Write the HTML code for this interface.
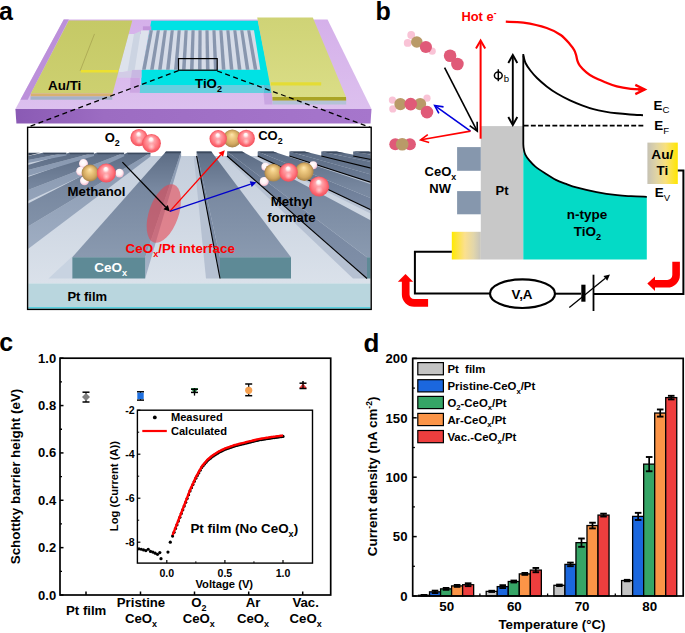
<!DOCTYPE html>
<html><head><meta charset="utf-8"><style>
html,body{margin:0;padding:0;background:#fff;width:685px;height:633px;overflow:hidden}
svg{display:block}
text{font-family:"Liberation Sans",sans-serif}
</style></head><body>
<svg width="685" height="633" viewBox="0 0 685 633">
<defs>
<linearGradient id="subFront" gradientUnits="userSpaceOnUse" x1="15" y1="0" x2="371" y2="0"><stop offset="0" stop-color="#8a5ab4"/><stop offset="0.25" stop-color="#9c6cc2"/><stop offset="1" stop-color="#a676cc"/></linearGradient>
<linearGradient id="subTop" x1="0" y1="0" x2="0" y2="1"><stop offset="0" stop-color="#d5b0ea"/><stop offset="1" stop-color="#dcc0ee"/></linearGradient>
<linearGradient id="padL" x1="0" y1="0" x2="0" y2="1"><stop offset="0" stop-color="#c5c966"/><stop offset="1" stop-color="#cdd070"/></linearGradient>
<linearGradient id="padR" x1="0" y1="0" x2="0" y2="1"><stop offset="0" stop-color="#cfd376"/><stop offset="1" stop-color="#dadd86"/></linearGradient>
<linearGradient id="goldL" x1="0" y1="0" x2="1" y2="0"><stop offset="0" stop-color="#ffea00"/><stop offset="0.2" stop-color="#fde444"/><stop offset="0.45" stop-color="#fbe08e"/><stop offset="0.75" stop-color="#e2d6aa"/><stop offset="1" stop-color="#c6c4bc"/></linearGradient>
<linearGradient id="goldR" x1="0" y1="0" x2="1" y2="0"><stop offset="0" stop-color="#c6c2b4"/><stop offset="0.3" stop-color="#e0d4a4"/><stop offset="0.6" stop-color="#f8e07c"/><stop offset="1" stop-color="#ffe600"/></linearGradient>
<radialGradient id="sphO" cx="0.5" cy="0.5" r="0.5" fx="0.47" fy="0.24"><stop offset="0" stop-color="#ffffff"/><stop offset="0.16" stop-color="#fff2f2"/><stop offset="0.34" stop-color="#ffa4aa"/><stop offset="0.75" stop-color="#ff747c"/><stop offset="1" stop-color="#f2505c"/></radialGradient>
<radialGradient id="hl2" cx="0.5" cy="0.5" r="0.5"><stop offset="0" stop-color="#ffffff" stop-opacity="0.55"/><stop offset="1" stop-color="#ffffff" stop-opacity="0"/></radialGradient>
<radialGradient id="sphC" cx="0.5" cy="0.5" r="0.5" fx="0.47" fy="0.28"><stop offset="0" stop-color="#fde6b0"/><stop offset="0.3" stop-color="#f0cc84"/><stop offset="0.75" stop-color="#d2a860"/><stop offset="1" stop-color="#a8844a"/></radialGradient>
<radialGradient id="sphH" cx="0.45" cy="0.4" r="0.6"><stop offset="0" stop-color="#ffffff"/><stop offset="0.6" stop-color="#fff0f4"/><stop offset="1" stop-color="#f4b8cc"/></radialGradient>
<clipPath id="insetClip"><rect x="28.3" y="128" width="342.2" height="180.7"/></clipPath>
</defs>
<rect x="0" y="0" width="685" height="633" fill="#fff"/>
<polygon points="63.77,19.50 327.56,19.50 371.50,108.90 15.40,108.90" fill="url(#subTop)" />
<polygon points="63.77,19.50 68.80,19.50 27.67,99.70 20.38,99.70" fill="#bc90da" />
<polygon points="15.40,108.90 371.50,108.90 370.50,123.60 16.40,123.60" fill="url(#subFront)" />
<polygon points="151.30,20.70 257.80,20.70 270.80,85.10 141.30,85.10 141.30,70.00 142.30,69.70" fill="#00e2e4" />
<polygon points="139.50,85.10 263.50,85.10 263.50,93.00 139.50,93.00" fill="#66cfdf" />
<polygon points="263.50,85.10 270.80,85.10 271.70,93.00 263.50,93.00" fill="#52c2d6" />
<polygon points="263.50,93.00 271.70,93.00 272.60,104.60 264.50,104.60" fill="#c9a6e2" />
<polygon points="142.90,26.30 151.30,26.30 151.30,30.20 142.90,30.20" fill="#c294da" />
<polygon points="128.50,34.00 141.00,34.00 141.00,30.40 149.00,30.40 142.30,69.70 141.30,70.00 118.20,72.50" fill="#dde2ec" />
<polygon points="134.00,34.00 140.80,31.00 134.50,70.80 127.50,71.50" fill="#ccd4e2" />
<polygon points="118.20,72.50 141.30,70.00 141.30,77.80 117.60,77.80" fill="#d2cce6" />
<polygon points="132.00,70.00 141.30,69.80 141.30,77.80 131.00,77.80" fill="#c8b8e2" />
<polygon points="130.50,77.80 139.80,77.80 139.80,92.80 129.90,92.80" fill="#cca6e2" />
<polygon points="149.67,30.20 254.00,30.20 260.30,69.70 141.90,69.70" fill="#d6dce8" />
<polygon points="149.84,30.20 152.97,30.20 145.70,69.70 142.10,69.70" fill="#8896ae" />
<polygon points="156.79,30.20 159.92,30.20 153.68,69.70 150.08,69.70" fill="#8896ae" />
<polygon points="163.74,30.20 166.87,30.20 161.66,69.70 158.06,69.70" fill="#8896ae" />
<polygon points="170.69,30.20 173.82,30.20 169.64,69.70 166.04,69.70" fill="#8896ae" />
<polygon points="177.64,30.20 180.77,30.20 177.62,69.70 174.02,69.70" fill="#8896ae" />
<polygon points="184.58,30.20 187.72,30.20 185.60,69.70 182.00,69.70" fill="#8896ae" />
<polygon points="191.53,30.20 194.67,30.20 193.58,69.70 189.98,69.70" fill="#8896ae" />
<polygon points="198.48,30.20 201.62,30.20 201.56,69.70 197.96,69.70" fill="#8896ae" />
<polygon points="205.43,30.20 208.57,30.20 209.54,69.70 205.94,69.70" fill="#8896ae" />
<polygon points="212.38,30.20 215.51,30.20 217.52,69.70 213.92,69.70" fill="#8896ae" />
<polygon points="219.33,30.20 222.46,30.20 225.50,69.70 221.90,69.70" fill="#8896ae" />
<polygon points="226.28,30.20 229.41,30.20 233.48,69.70 229.88,69.70" fill="#8896ae" />
<polygon points="233.23,30.20 236.36,30.20 241.46,69.70 237.86,69.70" fill="#8896ae" />
<polygon points="240.18,30.20 243.31,30.20 249.44,69.70 245.84,69.70" fill="#8896ae" />
<polygon points="247.12,30.20 250.26,30.20 257.42,69.70 253.82,69.70" fill="#8896ae" />
<polygon points="68.80,20.50 132.30,20.50 112.60,93.50 30.80,93.50" fill="url(#padL)" />
<polygon points="30.80,93.50 112.60,93.50 112.40,96.60 30.60,96.60" fill="#d8b070" />
<polygon points="30.60,96.60 112.40,96.60 112.20,99.80 30.40,99.80" fill="#a4b2c8" />
<line x1="94.50" y1="33.90" x2="80.10" y2="70.90" stroke="#a8a450" stroke-width="0.8" />
<line x1="80.80" y1="71.30" x2="118.00" y2="71.30" stroke="#ece030" stroke-width="2.4" />
<polygon points="257.20,17.50 312.80,17.50 346.00,96.90 272.40,96.90" fill="url(#padR)" />
<polygon points="272.40,96.90 346.00,96.90 346.20,100.80 272.50,100.80" fill="#aaa424" />
<polygon points="272.50,100.80 346.20,100.80 346.20,104.60 272.60,104.60" fill="#b4c2d6" />
<line x1="270.90" y1="83.80" x2="321.20" y2="83.80" stroke="#e4dc34" stroke-width="3.3" />
<rect x="178.5" y="58.6" width="38.7" height="11.6" fill="none" stroke="#000" stroke-width="1.2"/>
<line x1="178.50" y1="70.60" x2="27.60" y2="127.20" stroke="#000" stroke-width="1.3" stroke-dasharray="5,3.5"/>
<line x1="217.20" y1="71.00" x2="370.80" y2="127.60" stroke="#000" stroke-width="1.3" stroke-dasharray="5,3.5"/>
<text x="48.10" y="89.60" font-size="13.4" font-weight="bold" fill="#000" text-anchor="start" >Au/Ti</text>
<text x="195.00" y="87.90" font-size="13.3" font-weight="bold" fill="#000" text-anchor="start" ><tspan font-size="13.30" dy="0.00">TiO</tspan><tspan font-size="9.04" dy="3.99">2</tspan></text>
<g clip-path="url(#insetClip)">
<rect x="27" y="127" width="345" height="185" fill="#fff"/>
<linearGradient id="topG" gradientUnits="userSpaceOnUse" x1="0" y1="152" x2="0" y2="258"><stop offset="0" stop-color="#5c6c84"/><stop offset="0.35" stop-color="#7888a0"/><stop offset="1" stop-color="#8a9ab0"/></linearGradient>
<linearGradient id="sideL" gradientUnits="userSpaceOnUse" x1="0" y1="152" x2="0" y2="279"><stop offset="0" stop-color="#8898b0"/><stop offset="1" stop-color="#a6b4c8"/></linearGradient>
<linearGradient id="sideR" gradientUnits="userSpaceOnUse" x1="0" y1="152" x2="0" y2="279"><stop offset="0" stop-color="#5c6c84"/><stop offset="0.4" stop-color="#7686a0"/><stop offset="1" stop-color="#8090a8"/></linearGradient>
<linearGradient id="gndG" gradientUnits="userSpaceOnUse" x1="0" y1="156" x2="0" y2="283"><stop offset="0" stop-color="#c4cedc"/><stop offset="1" stop-color="#dae1ea"/></linearGradient>
<polygon points="20.00,156.00 380.00,156.00 380.00,283.40 20.00,283.40" fill="url(#gndG)" />
<polygon points="18.00,232.52 150.50,152.70 150.50,156.50 18.00,256.55" fill="url(#sideL)" />
<polygon points="18.00,208.75 126.90,152.70 150.50,152.70 18.00,232.52" fill="url(#topG)" />
<polygon points="126.90,152.70 150.50,152.70 150.10,154.30 128.10,154.30" fill="#3c4a5e" />
<polygon points="18.00,193.88 124.20,152.70 124.20,156.30 18.00,205.65" fill="url(#sideL)" />
<polygon points="18.00,180.54 96.60,152.70 124.20,152.70 18.00,193.88" fill="url(#topG)" />
<polygon points="96.60,152.70 124.20,152.70 123.80,154.30 97.80,154.30" fill="#3c4a5e" />
<polygon points="18.00,172.62 94.00,152.70 94.00,156.00 18.00,179.03" fill="url(#sideL)" />
<polygon points="18.00,168.00 69.00,152.70 94.00,152.70 18.00,172.62" fill="url(#topG)" />
<polygon points="69.00,152.70 94.00,152.70 93.60,154.30 70.20,154.30" fill="#3c4a5e" />
<polygon points="18.00,161.90 66.40,152.70 66.40,155.50 18.00,164.95" fill="url(#sideL)" />
<polygon points="18.00,158.23 42.80,152.70 66.40,152.70 18.00,161.90" fill="url(#topG)" />
<polygon points="42.80,152.70 66.40,152.70 66.00,154.30 44.00,154.30" fill="#3c4a5e" />
<polygon points="27.00,152.70 40.00,152.70 27.00,156.00" fill="#3c4a5e" />
<polygon points="220.00,278.50 206.00,278.50 193.71,156.00 196.61,156.00" fill="#b6c1d2" />
<polygon points="367.00,278.50 353.00,278.50 224.16,156.00 227.06,156.00" fill="#b6c1d2" />
<polygon points="515.00,278.50 501.00,278.50 254.81,156.00 257.71,156.00" fill="#b6c1d2" />
<polygon points="668.00,278.50 654.00,278.50 286.50,156.00 289.40,156.00" fill="#b6c1d2" />
<polygon points="822.00,278.50 808.00,278.50 318.40,156.00 321.30,156.00" fill="#b6c1d2" />
<polygon points="976.00,278.50 962.00,278.50 350.29,156.00 353.19,156.00" fill="#b6c1d2" />
<polygon points="145.20,257.30 145.20,278.50 181.12,156.00 181.12,151.60" fill="url(#sideL)" />
<polygon points="72.20,257.30 145.20,257.30 181.12,151.60 166.01,151.60" fill="url(#topG)" />
<polygon points="72.20,257.30 145.20,257.30 145.20,278.50 72.20,278.50" fill="#5e8a96" />
<polygon points="166.01,151.60 181.12,151.60 180.58,153.20 164.59,153.20" fill="#3c4a5e" />
<polygon points="220.00,257.30 220.00,278.50 196.61,156.00 196.61,151.60" fill="url(#sideR)" />
<polygon points="220.00,257.30 291.00,257.30 211.31,151.60 196.61,151.60" fill="url(#topG)" />
<polygon points="220.00,257.30 291.00,257.30 291.00,278.50 220.00,278.50" fill="#5e8a96" />
<polygon points="196.61,151.60 211.31,151.60 212.52,153.20 196.96,153.20" fill="#3c4a5e" />
<line x1="220.00" y1="278.50" x2="196.61" y2="156.00" stroke="#000" stroke-width="1.1" />
<polygon points="367.00,257.30 367.00,278.50 227.06,156.00 227.04,151.60" fill="url(#sideR)" />
<polygon points="367.00,257.30 440.00,257.30 242.16,151.60 227.04,151.60" fill="url(#topG)" />
<polygon points="367.00,257.30 440.00,257.30 440.00,278.50 367.00,278.50" fill="#5e8a96" />
<polygon points="227.04,151.60 242.16,151.60 245.15,153.20 229.16,153.20" fill="#3c4a5e" />
<line x1="367.00" y1="278.50" x2="227.06" y2="156.00" stroke="#000" stroke-width="1.1" />
<polygon points="515.00,257.30 515.00,278.50 257.71,156.00 257.69,151.60" fill="url(#sideR)" />
<polygon points="515.00,257.30 590.00,257.30 273.22,151.60 257.69,151.60" fill="url(#topG)" />
<polygon points="515.00,257.30 590.00,257.30 590.00,278.50 515.00,278.50" fill="#5e8a96" />
<polygon points="257.69,151.60 273.22,151.60 278.01,153.20 261.58,153.20" fill="#3c4a5e" />
<line x1="515.00" y1="278.50" x2="257.71" y2="156.00" stroke="#000" stroke-width="1.1" />
<polygon points="668.00,257.30 668.00,278.50 289.40,156.00 289.37,151.60" fill="url(#sideR)" />
<polygon points="668.00,257.30 742.00,257.30 304.69,151.60 289.37,151.60" fill="url(#topG)" />
<polygon points="668.00,257.30 742.00,257.30 742.00,278.50 668.00,278.50" fill="#5e8a96" />
<polygon points="289.37,151.60 304.69,151.60 311.31,153.20 295.10,153.20" fill="#3c4a5e" />
<line x1="668.00" y1="278.50" x2="289.40" y2="156.00" stroke="#000" stroke-width="1.1" />
<polygon points="822.00,257.30 822.00,278.50 321.30,156.00 321.25,151.60" fill="url(#sideR)" />
<polygon points="822.00,257.30 896.00,257.30 336.58,151.60 321.25,151.60" fill="url(#topG)" />
<polygon points="822.00,257.30 896.00,257.30 896.00,278.50 822.00,278.50" fill="#5e8a96" />
<polygon points="321.25,151.60 336.58,151.60 345.04,153.20 328.83,153.20" fill="#3c4a5e" />
<line x1="822.00" y1="278.50" x2="321.30" y2="156.00" stroke="#000" stroke-width="1.1" />
<polygon points="976.00,257.30 976.00,278.50 353.19,156.00 353.14,151.60" fill="url(#sideR)" />
<polygon points="976.00,257.30 1050.00,257.30 368.46,151.60 353.14,151.60" fill="url(#topG)" />
<polygon points="976.00,257.30 1050.00,257.30 1050.00,278.50 976.00,278.50" fill="#5e8a96" />
<polygon points="353.14,151.60 368.46,151.60 378.78,153.20 362.57,153.20" fill="#3c4a5e" />
<line x1="976.00" y1="278.50" x2="353.19" y2="156.00" stroke="#000" stroke-width="1.1" />
<polygon points="48.50,278.50 72.20,256.50 72.20,278.50" fill="#c8d3e1" />
<rect x="20" y="283.4" width="360" height="25.2" fill="#b9d6de"/>
<rect x="20" y="307.2" width="360" height="1.5" fill="#40d0e0"/>
</g>
<rect x="27.6" y="127.3" width="343.6" height="182.1" fill="none" stroke="#000" stroke-width="1.4"/>
<text x="67.40" y="300.50" font-size="13" font-weight="bold" fill="#000" text-anchor="start" >Pt film</text>
<text x="94.30" y="271.50" font-size="13.5" font-weight="bold" fill="#fff" text-anchor="start" ><tspan font-size="13.50" dy="0.00">CeO</tspan><tspan font-size="9.18" dy="4.05">x</tspan></text>
<ellipse cx="163.8" cy="213.5" rx="14.8" ry="30.6" transform="rotate(19 163.8 213.5)" fill="#e8444f" fill-opacity="0.58"/>
<text x="125.60" y="253.00" font-size="13.4" font-weight="bold" fill="#ff0000" text-anchor="start" ><tspan font-size="13.40" dy="0.00">CeO</tspan><tspan font-size="9.11" dy="4.02">x</tspan><tspan font-size="13.40" dy="-4.02">/Pt interface</tspan></text>
<circle cx="83.5" cy="163.6" r="4.5" fill="url(#sphH)"/>
<circle cx="84.5" cy="180.7" r="4.5" fill="url(#sphH)"/>
<circle cx="80.7" cy="171.2" r="4.5" fill="url(#sphH)"/>
<circle cx="90.1" cy="173.1" r="8.5" fill="url(#sphC)"/>
<circle cx="119.5" cy="173.1" r="4.3" fill="url(#sphH)"/>
<circle cx="106.3" cy="173.1" r="9.5" fill="url(#sphO)"/>
<circle cx="106.3" cy="176.71" r="3.80" fill="url(#hl2)"/>
<circle cx="139" cy="137.7" r="8.6" fill="url(#sphO)"/>
<circle cx="139" cy="140.97" r="3.44" fill="url(#hl2)"/>
<circle cx="151.5" cy="143.3" r="9.4" fill="url(#sphO)"/>
<circle cx="151.5" cy="146.87" r="3.76" fill="url(#hl2)"/>
<circle cx="232.3" cy="138.4" r="9" fill="url(#sphC)"/>
<circle cx="218.2" cy="138.8" r="8.7" fill="url(#sphO)"/>
<circle cx="218.2" cy="142.11" r="3.48" fill="url(#hl2)"/>
<circle cx="246.2" cy="138.4" r="8.7" fill="url(#sphO)"/>
<circle cx="246.2" cy="141.71" r="3.48" fill="url(#hl2)"/>
<circle cx="265.4" cy="166.7" r="4" fill="url(#sphH)"/>
<circle cx="264.2" cy="181.5" r="4.5" fill="url(#sphH)"/>
<circle cx="313.2" cy="165.3" r="4" fill="url(#sphH)"/>
<circle cx="273.3" cy="172.6" r="8.9" fill="url(#sphC)"/>
<circle cx="304.3" cy="171.6" r="9.3" fill="url(#sphC)"/>
<circle cx="288.5" cy="172.4" r="9.3" fill="url(#sphO)"/>
<circle cx="288.5" cy="175.93" r="3.72" fill="url(#hl2)"/>
<circle cx="319.1" cy="186.4" r="10" fill="url(#sphO)"/>
<circle cx="319.1" cy="190.20" r="4.00" fill="url(#hl2)"/>
<text x="104.70" y="142.20" font-size="13" font-weight="bold" fill="#000" text-anchor="start" ><tspan font-size="13.00" dy="0.00">O</tspan><tspan font-size="8.84" dy="3.90">2</tspan></text>
<text x="258.20" y="139.60" font-size="13" font-weight="bold" fill="#000" text-anchor="start" ><tspan font-size="13.00" dy="0.00">CO</tspan><tspan font-size="8.84" dy="3.90">2</tspan></text>
<text x="67.60" y="196.20" font-size="13.2" font-weight="bold" fill="#000" text-anchor="start" >Methanol</text>
<text x="270.70" y="206.00" font-size="13.2" font-weight="bold" fill="#000" text-anchor="start" >Methyl</text>
<text x="267.20" y="221.50" font-size="13.2" font-weight="bold" fill="#000" text-anchor="start" >formate</text>
<line x1="122.40" y1="162.10" x2="165.64" y2="207.07" stroke="#000" stroke-width="1.3"/>
<polygon points="163.48,209.15 169.80,211.40 167.80,205.00" fill="#000"/>
<line x1="169.80" y1="211.40" x2="220.79" y2="154.76" stroke="#ff0000" stroke-width="1.3"/>
<polygon points="223.02,156.77 224.80,150.30 218.56,152.75" fill="#ff0000"/>
<line x1="169.80" y1="211.40" x2="250.71" y2="184.21" stroke="#0000cc" stroke-width="1.3"/>
<polygon points="251.67,187.05 256.40,182.30 249.76,181.37" fill="#0000cc"/>
<text x="-1.00" y="19.50" font-size="25" font-weight="bold" fill="#000" text-anchor="start" >a</text>
<text x="375.50" y="20.00" font-size="25" font-weight="bold" fill="#000" text-anchor="start" >b</text>
<rect x="480.8" y="126.1" width="42.5" height="133.4" fill="#c8c8c8"/>
<path d="M523.30,144.00 C523.37,144.75 523.38,146.78 523.70,148.50 C524.02,150.22 524.27,152.32 525.20,154.30 C526.13,156.28 527.60,158.35 529.30,160.40 C531.00,162.45 532.67,164.38 535.40,166.60 C538.13,168.82 542.28,171.48 545.70,173.70 C549.12,175.92 552.50,178.20 555.90,179.90 C559.30,181.60 562.70,182.65 566.10,183.90 C569.50,185.15 571.20,186.03 576.30,187.40 C581.40,188.77 589.88,190.80 596.70,192.10 C603.52,193.40 611.48,194.52 617.20,195.20 C622.92,195.88 626.07,195.93 631.00,196.20 C635.93,196.47 644.17,196.70 646.80,196.80 L646.8,259.5 L523.3,259.5 Z" fill="#04dac6"/>
<path d="M523.3,54 L523.30,144.00 C523.37,144.75 523.38,146.78 523.70,148.50 C524.02,150.22 524.27,152.32 525.20,154.30 C526.13,156.28 527.60,158.35 529.30,160.40 C531.00,162.45 532.67,164.38 535.40,166.60 C538.13,168.82 542.28,171.48 545.70,173.70 C549.12,175.92 552.50,178.20 555.90,179.90 C559.30,181.60 562.70,182.65 566.10,183.90 C569.50,185.15 571.20,186.03 576.30,187.40 C581.40,188.77 589.88,190.80 596.70,192.10 C603.52,193.40 611.48,194.52 617.20,195.20 C622.92,195.88 626.07,195.93 631.00,196.20 C635.93,196.47 644.17,196.70 646.80,196.80" fill="none" stroke="#000" stroke-width="1.8"/>
<path d="M523.40,55.50 C523.75,56.75 524.33,60.50 525.50,63.00 C526.67,65.50 528.48,68.00 530.40,70.50 C532.32,73.00 534.28,75.35 537.00,78.00 C539.72,80.65 543.37,83.82 546.70,86.40 C550.03,88.98 553.12,91.17 557.00,93.50 C560.88,95.83 565.83,98.43 570.00,100.40 C574.17,102.37 578.10,103.85 582.00,105.30 C585.90,106.75 589.57,108.05 593.40,109.10 C597.23,110.15 601.10,110.90 605.00,111.60 C608.90,112.30 612.63,112.82 616.80,113.30 C620.97,113.78 625.63,114.18 630.00,114.50 C634.37,114.82 640.83,115.08 643.00,115.20" fill="none" stroke="#000" stroke-width="1.9"/>
<line x1="523.70" y1="125.70" x2="643.30" y2="125.70" stroke="#000" stroke-width="1.7" stroke-dasharray="4.9,2.27"/>
<rect x="457.1" y="147.1" width="23.7" height="23.7" fill="#8697ad"/>
<rect x="457.1" y="191.1" width="23.7" height="23.2" fill="#8697ad"/>
<rect x="451.8" y="231.8" width="29" height="27.7" fill="url(#goldL)"/>
<rect x="647.4" y="142.6" width="30.4" height="41.4" fill="url(#goldR)"/>
<polyline points="451.8,251.7 414.9,251.7 414.9,293.4 490.2,293.4" fill="none" stroke="#000" stroke-width="2"/>
<polyline points="677.8,170.5 683.4,170.5 683.4,293.9 593.5,293.9" fill="none" stroke="#000" stroke-width="2"/>
<line x1="555.00" y1="293.70" x2="581.00" y2="293.70" stroke="#000" stroke-width="2" />
<ellipse cx="522.5" cy="293.7" rx="32.5" ry="14.3" fill="#fff" stroke="#000" stroke-width="2.2"/>
<rect x="581.3" y="284.7" width="4.2" height="17" fill="#000"/>
<line x1="593.50" y1="274.70" x2="593.50" y2="311.00" stroke="#000" stroke-width="1.8" />
<line x1="569.30" y1="307.40" x2="605.33" y2="278.36" stroke="#000" stroke-width="1.3"/>
<polygon points="607.21,280.70 610.00,274.60 603.45,276.03" fill="#000"/>
<text x="522.00" y="298.70" font-size="13.4" font-weight="bold" fill="#000" text-anchor="middle" >V,A</text>
<path d="M405.7,281 L405.7,294.5 A8.4,8.4 0 0 0 414.1,302.9 L428.1,302.9" fill="none" stroke="#ff0000" stroke-width="7.7"/>
<polygon points="397.8,281.8 405.5,273.9 413.2,281.8" fill="#ff0000"/>
<path d="M676.1,261.8 L676.1,275 A8.8,8.8 0 0 1 667.3,283.8 L655,283.8" fill="none" stroke="#ff0000" stroke-width="7.6"/>
<polygon points="655,276.6 647.3,283.5 655,291" fill="#ff0000"/>
<polyline points="485.20,48.50 480.60,40.50 476.00,48.50" fill="none" stroke="#ff0000" stroke-width="2"/>
<line x1="480.60" y1="138.70" x2="480.60" y2="41.00" stroke="#ff0000" stroke-width="2"/>
<path d="M505.80,21.70 C508.73,21.87 516.58,21.65 523.40,22.70 C530.22,23.75 540.48,25.95 546.70,28.00 C552.92,30.05 556.80,32.27 560.70,35.00 C564.60,37.73 567.83,41.87 570.10,44.40 C572.37,46.93 573.28,48.35 574.30,50.20 C575.32,52.05 575.68,53.75 576.20,55.50 C576.72,57.25 576.80,59.02 577.40,60.70 C578.00,62.38 578.30,63.65 579.80,65.60 C581.30,67.55 584.13,70.48 586.40,72.40 C588.67,74.32 590.28,75.47 593.40,77.10 C596.52,78.73 601.20,80.65 605.10,82.20 C609.00,83.75 612.52,85.30 616.80,86.40 C621.08,87.50 626.43,88.28 630.80,88.80 C635.17,89.32 640.97,89.38 643.00,89.50" fill="none" stroke="#ff0000" stroke-width="2.3"/>
<polyline points="635.30,94.10 644.80,89.50 635.30,84.90" fill="none" stroke="#ff0000" stroke-width="2.3"/>
<line x1="638.00" y1="89.50" x2="644.30" y2="89.50" stroke="#ff0000" stroke-width="2.3"/>
<line x1="512.8" y1="56" x2="512.8" y2="123" stroke="#000" stroke-width="1.9"/>
<polyline points="508.3,63 512.8,55 517.3,63" fill="none" stroke="#000" stroke-width="1.9"/>
<polyline points="508.3,117 512.8,125 517.3,117" fill="none" stroke="#000" stroke-width="1.9"/>
<ellipse cx="498.3" cy="75.5" rx="3.9" ry="3.5" fill="none" stroke="#000" stroke-width="1.5"/>
<line x1="498.30" y1="69.30" x2="498.30" y2="81.20" stroke="#000" stroke-width="1.5" />
<text x="503.80" y="82.00" font-size="9.6" font-weight="normal" fill="#000" text-anchor="start" >b</text>
<polyline points="469.67,125.57 477.30,131.20 477.14,121.72" fill="none" stroke="#000" stroke-width="1.6"/>
<line x1="444.60" y1="67.70" x2="477.07" y2="130.76" stroke="#000" stroke-width="1.6"/>
<polyline points="443.53,106.90 434.70,105.50 438.88,113.41" fill="none" stroke="#0000dd" stroke-width="1.6"/>
<line x1="470.50" y1="131.10" x2="435.11" y2="105.79" stroke="#0000dd" stroke-width="1.6"/>
<polyline points="427.78,134.57 420.60,139.90 429.17,142.45" fill="none" stroke="#ff0000" stroke-width="1.6"/>
<line x1="470.50" y1="131.10" x2="421.09" y2="139.81" stroke="#ff0000" stroke-width="1.6"/>
<circle cx="411.2" cy="35" r="3.9" fill="#f9c3d6"/>
<circle cx="407.7" cy="42.9" r="3.9" fill="#f9c3d6"/>
<circle cx="432.2" cy="51.2" r="3.6" fill="#f9c3d6"/>
<circle cx="416.8" cy="42" r="5.8" fill="#b99a68"/>
<circle cx="425.9" cy="47" r="6.1" fill="#e05a78"/>
<circle cx="450.1" cy="55.7" r="6.3" fill="#e05a78"/>
<circle cx="457.4" cy="64" r="6.3" fill="#e05a78"/>
<circle cx="392.4" cy="100.1" r="3.6" fill="#f9c3d6"/>
<circle cx="392.8" cy="108.9" r="3.6" fill="#f9c3d6"/>
<circle cx="427" cy="98.2" r="3.6" fill="#f9c3d6"/>
<circle cx="400.4" cy="104.1" r="6.1" fill="#b99a68"/>
<circle cx="420.1" cy="104.1" r="6.1" fill="#b99a68"/>
<circle cx="410.7" cy="104.1" r="6.3" fill="#e05a78"/>
<circle cx="427" cy="112.1" r="6.3" fill="#e05a78"/>
<circle cx="395.3" cy="144.2" r="6" fill="#e05a78"/>
<circle cx="409.9" cy="144.2" r="6" fill="#e05a78"/>
<circle cx="402.2" cy="144.2" r="6.3" fill="#b99a68"/>
<text x="461.40" y="21.00" font-size="12.9" font-weight="bold" fill="#ff0000" text-anchor="start" >Hot e<tspan font-size="8.5" dy="-5.5">-</tspan></text>
<text x="653.60" y="110.20" font-size="13.4" font-weight="bold" fill="#000" text-anchor="start" >E<tspan font-size="9.6" font-weight="normal" dy="2.7">C</tspan></text>
<text x="654.20" y="130.20" font-size="13.4" font-weight="bold" fill="#000" text-anchor="start" >E<tspan font-size="9.6" font-weight="normal" dy="3.4">F</tspan></text>
<text x="654.80" y="197.40" font-size="13.4" font-weight="bold" fill="#000" text-anchor="start" >E<tspan font-size="9.6" font-weight="normal" dy="3.4">V</tspan></text>
<text x="662.30" y="158.60" font-size="13.6" font-weight="bold" fill="#000" text-anchor="middle" >Au/</text>
<text x="662.30" y="174.50" font-size="13.4" font-weight="bold" fill="#000" text-anchor="middle" >Ti</text>
<text x="440.40" y="176.40" font-size="13" font-weight="bold" fill="#000" text-anchor="middle" ><tspan font-size="13.00" dy="0.00">CeO</tspan><tspan font-size="8.84" dy="3.90">x</tspan></text>
<text x="440.20" y="193.20" font-size="13" font-weight="bold" fill="#000" text-anchor="middle" >NW</text>
<text x="502.00" y="195.00" font-size="13" font-weight="bold" fill="#000" text-anchor="middle" >Pt</text>
<text x="587.00" y="219.30" font-size="13.5" font-weight="bold" fill="#000" text-anchor="middle" >n-type</text>
<text x="587.40" y="235.80" font-size="13.5" font-weight="bold" fill="#000" text-anchor="middle" ><tspan font-size="13.50" dy="0.00">TiO</tspan><tspan font-size="9.18" dy="4.05">2</tspan></text>
<text x="-0.80" y="351.00" font-size="25" font-weight="bold" fill="#000" text-anchor="start" >c</text>
<rect x="60.0" y="358.2" width="270.7" height="236.8" fill="none" stroke="#000" stroke-width="1.7"/>
<line x1="60.00" y1="595.00" x2="63.50" y2="595.00" stroke="#000" stroke-width="1.5" />
<text x="56.20" y="599.50" font-size="13" font-weight="bold" fill="#000" text-anchor="end" >0.0</text>
<line x1="60.00" y1="547.64" x2="63.50" y2="547.64" stroke="#000" stroke-width="1.5" />
<text x="56.20" y="552.14" font-size="13" font-weight="bold" fill="#000" text-anchor="end" >0.2</text>
<line x1="60.00" y1="500.28" x2="63.50" y2="500.28" stroke="#000" stroke-width="1.5" />
<text x="56.20" y="504.78" font-size="13" font-weight="bold" fill="#000" text-anchor="end" >0.4</text>
<line x1="60.00" y1="452.92" x2="63.50" y2="452.92" stroke="#000" stroke-width="1.5" />
<text x="56.20" y="457.42" font-size="13" font-weight="bold" fill="#000" text-anchor="end" >0.6</text>
<line x1="60.00" y1="405.56" x2="63.50" y2="405.56" stroke="#000" stroke-width="1.5" />
<text x="56.20" y="410.06" font-size="13" font-weight="bold" fill="#000" text-anchor="end" >0.8</text>
<line x1="60.00" y1="358.20" x2="63.50" y2="358.20" stroke="#000" stroke-width="1.5" />
<text x="56.20" y="362.70" font-size="13" font-weight="bold" fill="#000" text-anchor="end" >1.0</text>
<line x1="60.00" y1="571.32" x2="62.00" y2="571.32" stroke="#000" stroke-width="1.3" />
<line x1="60.00" y1="523.96" x2="62.00" y2="523.96" stroke="#000" stroke-width="1.3" />
<line x1="60.00" y1="476.60" x2="62.00" y2="476.60" stroke="#000" stroke-width="1.3" />
<line x1="60.00" y1="429.24" x2="62.00" y2="429.24" stroke="#000" stroke-width="1.3" />
<line x1="60.00" y1="381.88" x2="62.00" y2="381.88" stroke="#000" stroke-width="1.3" />
<line x1="86.00" y1="595.00" x2="86.00" y2="591.50" stroke="#000" stroke-width="1.5" />
<line x1="140.50" y1="595.00" x2="140.50" y2="591.50" stroke="#000" stroke-width="1.5" />
<line x1="194.50" y1="595.00" x2="194.50" y2="591.50" stroke="#000" stroke-width="1.5" />
<line x1="248.70" y1="595.00" x2="248.70" y2="591.50" stroke="#000" stroke-width="1.5" />
<line x1="302.70" y1="595.00" x2="302.70" y2="591.50" stroke="#000" stroke-width="1.5" />
<text x="86.20" y="615.30" font-size="13.2" font-weight="bold" fill="#000" text-anchor="middle" >Pt film</text>
<text x="141.00" y="607.20" font-size="13.2" font-weight="bold" fill="#000" text-anchor="middle" >Pristine</text>
<text x="141.00" y="622.80" font-size="13.2" font-weight="bold" fill="#000" text-anchor="middle" ><tspan font-size="13.20" dy="0.00">CeO</tspan><tspan font-size="8.98" dy="3.96">x</tspan></text>
<text x="198.80" y="607.20" font-size="13.2" font-weight="bold" fill="#000" text-anchor="middle" ><tspan font-size="13.20" dy="0.00">O</tspan><tspan font-size="8.98" dy="3.96">2</tspan></text>
<text x="198.80" y="622.80" font-size="13.2" font-weight="bold" fill="#000" text-anchor="middle" ><tspan font-size="13.20" dy="0.00">CeO</tspan><tspan font-size="8.98" dy="3.96">x</tspan></text>
<text x="253.00" y="607.20" font-size="13.2" font-weight="bold" fill="#000" text-anchor="middle" >Ar</text>
<text x="253.00" y="622.80" font-size="13.2" font-weight="bold" fill="#000" text-anchor="middle" ><tspan font-size="13.20" dy="0.00">CeO</tspan><tspan font-size="8.98" dy="3.96">x</tspan></text>
<text x="305.60" y="607.20" font-size="13.2" font-weight="bold" fill="#000" text-anchor="middle" >Vac.</text>
<text x="305.60" y="622.80" font-size="13.2" font-weight="bold" fill="#000" text-anchor="middle" ><tspan font-size="13.20" dy="0.00">CeO</tspan><tspan font-size="8.98" dy="3.96">x</tspan></text>
<text transform="translate(20.2,476.5) rotate(-90)" font-size="13.4" font-weight="bold" text-anchor="middle">Schottky barrier height (eV)</text>
<line x1="86.00" y1="392.20" x2="86.00" y2="402.00" stroke="#000" stroke-width="1.2" />
<line x1="82.50" y1="392.20" x2="89.50" y2="392.20" stroke="#000" stroke-width="1.5" />
<line x1="82.50" y1="402.00" x2="89.50" y2="402.00" stroke="#000" stroke-width="1.5" />
<polygon points="86.00,392.90 90.00,396.90 86.00,400.90 82.00,396.90" fill="#808080" />
<line x1="140.50" y1="391.80" x2="140.50" y2="400.10" stroke="#000" stroke-width="1.2" />
<line x1="137.00" y1="391.80" x2="144.00" y2="391.80" stroke="#000" stroke-width="1.5" />
<line x1="137.00" y1="400.10" x2="144.00" y2="400.10" stroke="#000" stroke-width="1.5" />
<rect x="137.3" y="392.7" width="6.4" height="6.4" fill="#1f70e0"/>
<polygon points="190.80,387.90 198.20,387.90 194.50,394.20" fill="#2e9a50" />
<line x1="194.50" y1="389.30" x2="194.50" y2="392.40" stroke="#000" stroke-width="1.2" />
<line x1="191.00" y1="389.30" x2="198.00" y2="389.30" stroke="#000" stroke-width="1.5" />
<line x1="191.00" y1="392.40" x2="198.00" y2="392.40" stroke="#000" stroke-width="1.5" />
<line x1="194.50" y1="388.00" x2="194.50" y2="395.60" stroke="#000" stroke-width="1.3" />
<line x1="248.70" y1="384.00" x2="248.70" y2="395.70" stroke="#000" stroke-width="1.2" />
<line x1="245.20" y1="384.00" x2="252.20" y2="384.00" stroke="#000" stroke-width="1.5" />
<line x1="245.20" y1="395.70" x2="252.20" y2="395.70" stroke="#000" stroke-width="1.5" />
<circle cx="248.7" cy="390.3" r="3.6" fill="#f5a050"/>
<polygon points="303.00,383.20 307.00,388.30 299.00,388.30" fill="#f03c3c" />
<line x1="303.00" y1="383.20" x2="303.00" y2="388.50" stroke="#000" stroke-width="1.2" />
<line x1="299.50" y1="383.20" x2="306.50" y2="383.20" stroke="#000" stroke-width="1.5" />
<line x1="299.50" y1="388.50" x2="306.50" y2="388.50" stroke="#000" stroke-width="1.5" />
<line x1="303.00" y1="381.00" x2="303.00" y2="383.20" stroke="#000" stroke-width="1.5" />
<rect x="137.4" y="410.2" width="175.1" height="152.90000000000003" fill="#fff" stroke="#000" stroke-width="1.4"/>
<line x1="137.40" y1="410.20" x2="140.40" y2="410.20" stroke="#000" stroke-width="1.2" />
<text x="134.60" y="414.00" font-size="10.6" font-weight="bold" fill="#000" text-anchor="end" >-2</text>
<line x1="137.40" y1="454.20" x2="140.40" y2="454.20" stroke="#000" stroke-width="1.2" />
<text x="134.60" y="458.00" font-size="10.6" font-weight="bold" fill="#000" text-anchor="end" >-4</text>
<line x1="137.40" y1="498.20" x2="140.40" y2="498.20" stroke="#000" stroke-width="1.2" />
<text x="134.60" y="502.00" font-size="10.6" font-weight="bold" fill="#000" text-anchor="end" >-6</text>
<line x1="137.40" y1="542.20" x2="140.40" y2="542.20" stroke="#000" stroke-width="1.2" />
<text x="134.60" y="546.00" font-size="10.6" font-weight="bold" fill="#000" text-anchor="end" >-8</text>
<line x1="137.40" y1="432.20" x2="139.20" y2="432.20" stroke="#000" stroke-width="1" />
<line x1="137.40" y1="476.20" x2="139.20" y2="476.20" stroke="#000" stroke-width="1" />
<line x1="137.40" y1="520.20" x2="139.20" y2="520.20" stroke="#000" stroke-width="1" />
<line x1="166.80" y1="563.10" x2="166.80" y2="560.10" stroke="#000" stroke-width="1.2" />
<text x="166.80" y="576.60" font-size="10.6" font-weight="bold" fill="#000" text-anchor="middle" >0.0</text>
<line x1="224.90" y1="563.10" x2="224.90" y2="560.10" stroke="#000" stroke-width="1.2" />
<text x="224.90" y="576.60" font-size="10.6" font-weight="bold" fill="#000" text-anchor="middle" >0.5</text>
<line x1="283.00" y1="563.10" x2="283.00" y2="560.10" stroke="#000" stroke-width="1.2" />
<text x="283.00" y="576.60" font-size="10.6" font-weight="bold" fill="#000" text-anchor="middle" >1.0</text>
<line x1="195.85" y1="563.10" x2="195.85" y2="561.30" stroke="#000" stroke-width="1" />
<line x1="253.95" y1="563.10" x2="253.95" y2="561.30" stroke="#000" stroke-width="1" />
<text x="224.30" y="588.40" font-size="11.2" font-weight="bold" fill="#000" text-anchor="middle" >Voltage (V)</text>
<text transform="translate(118.3,486.1) rotate(-90)" font-size="11.2" font-weight="bold" text-anchor="middle">Log (Current (A))</text>
<circle cx="154.8" cy="417.4" r="1.9" fill="#000"/>
<text x="170.90" y="420.80" font-size="11.1" font-weight="bold" fill="#000" text-anchor="start" >Measured</text>
<line x1="142.30" y1="431.00" x2="166.80" y2="431.00" stroke="#ff0000" stroke-width="2.2" />
<text x="170.90" y="435.10" font-size="11.1" font-weight="bold" fill="#000" text-anchor="start" >Calculated</text>
<text x="190.40" y="533.30" font-size="13.4" font-weight="bold" fill="#000" text-anchor="start" ><tspan font-size="13.40" dy="0.00">Pt film (No CeO</tspan><tspan font-size="9.11" dy="4.02">x</tspan><tspan font-size="13.40" dy="-4.02">)</tspan></text>
<circle cx="138.91" cy="548.80" r="1.6" fill="#000"/>
<circle cx="141.24" cy="549.24" r="1.6" fill="#000"/>
<circle cx="143.56" cy="549.90" r="1.6" fill="#000"/>
<circle cx="145.88" cy="550.56" r="1.6" fill="#000"/>
<circle cx="148.21" cy="549.24" r="1.6" fill="#000"/>
<circle cx="150.53" cy="551.44" r="1.6" fill="#000"/>
<circle cx="152.86" cy="552.10" r="1.6" fill="#000"/>
<circle cx="155.18" cy="553.20" r="1.6" fill="#000"/>
<circle cx="157.50" cy="554.30" r="1.6" fill="#000"/>
<circle cx="159.83" cy="552.54" r="1.6" fill="#000"/>
<circle cx="160.99" cy="558.70" r="1.6" fill="#000"/>
<circle cx="167.96" cy="552.10" r="1.6" fill="#000"/>
<circle cx="170.29" cy="542.20" r="1.6" fill="#000"/>
<circle cx="172.61" cy="536.04" r="1.6" fill="#000"/>
<circle cx="174.06" cy="532.30" r="1.6" fill="#000"/>
<circle cx="175.52" cy="528.56" r="1.6" fill="#000"/>
<circle cx="176.97" cy="524.82" r="1.6" fill="#000"/>
<circle cx="178.42" cy="521.08" r="1.6" fill="#000"/>
<circle cx="179.87" cy="517.34" r="1.6" fill="#000"/>
<circle cx="181.33" cy="513.60" r="1.6" fill="#000"/>
<circle cx="182.78" cy="509.86" r="1.6" fill="#000"/>
<circle cx="184.23" cy="506.12" r="1.6" fill="#000"/>
<circle cx="185.68" cy="502.32" r="1.6" fill="#000"/>
<circle cx="187.14" cy="498.53" r="1.6" fill="#000"/>
<circle cx="188.59" cy="494.74" r="1.6" fill="#000"/>
<circle cx="190.04" cy="490.94" r="1.6" fill="#000"/>
<circle cx="191.49" cy="487.75" r="1.6" fill="#000"/>
<circle cx="192.95" cy="484.56" r="1.6" fill="#000"/>
<circle cx="194.40" cy="481.37" r="1.6" fill="#000"/>
<circle cx="195.85" cy="478.18" r="1.6" fill="#000"/>
<circle cx="197.30" cy="475.53" r="1.6" fill="#000"/>
<circle cx="198.76" cy="472.89" r="1.6" fill="#000"/>
<circle cx="200.21" cy="470.24" r="1.6" fill="#000"/>
<circle cx="201.66" cy="467.60" r="1.6" fill="#000"/>
<circle cx="203.11" cy="465.67" r="1.6" fill="#000"/>
<circle cx="204.56" cy="463.97" r="1.6" fill="#000"/>
<circle cx="206.02" cy="462.28" r="1.6" fill="#000"/>
<circle cx="207.47" cy="460.58" r="1.6" fill="#000"/>
<circle cx="208.92" cy="459.36" r="1.6" fill="#000"/>
<circle cx="210.38" cy="458.15" r="1.6" fill="#000"/>
<circle cx="211.83" cy="456.93" r="1.6" fill="#000"/>
<circle cx="213.28" cy="455.89" r="1.6" fill="#000"/>
<circle cx="214.73" cy="454.97" r="1.6" fill="#000"/>
<circle cx="216.19" cy="454.05" r="1.6" fill="#000"/>
<circle cx="217.64" cy="453.14" r="1.6" fill="#000"/>
<circle cx="219.09" cy="452.22" r="1.6" fill="#000"/>
<circle cx="220.54" cy="451.50" r="1.6" fill="#000"/>
<circle cx="222.00" cy="450.79" r="1.6" fill="#000"/>
<circle cx="223.45" cy="450.07" r="1.6" fill="#000"/>
<circle cx="224.90" cy="449.36" r="1.6" fill="#000"/>
<circle cx="226.35" cy="448.85" r="1.6" fill="#000"/>
<circle cx="227.81" cy="448.35" r="1.6" fill="#000"/>
<circle cx="229.26" cy="447.84" r="1.6" fill="#000"/>
<circle cx="230.71" cy="447.34" r="1.6" fill="#000"/>
<circle cx="232.16" cy="446.83" r="1.6" fill="#000"/>
<circle cx="233.62" cy="446.33" r="1.6" fill="#000"/>
<circle cx="235.07" cy="445.83" r="1.6" fill="#000"/>
<circle cx="236.52" cy="445.46" r="1.6" fill="#000"/>
<circle cx="237.97" cy="445.10" r="1.6" fill="#000"/>
<circle cx="239.43" cy="444.73" r="1.6" fill="#000"/>
<circle cx="240.88" cy="444.37" r="1.6" fill="#000"/>
<circle cx="242.33" cy="444.00" r="1.6" fill="#000"/>
<circle cx="243.78" cy="443.64" r="1.6" fill="#000"/>
<circle cx="245.24" cy="443.27" r="1.6" fill="#000"/>
<circle cx="246.69" cy="442.91" r="1.6" fill="#000"/>
<circle cx="248.14" cy="442.54" r="1.6" fill="#000"/>
<circle cx="249.59" cy="442.19" r="1.6" fill="#000"/>
<circle cx="251.05" cy="441.83" r="1.6" fill="#000"/>
<circle cx="252.50" cy="441.48" r="1.6" fill="#000"/>
<circle cx="253.95" cy="441.12" r="1.6" fill="#000"/>
<circle cx="255.40" cy="440.77" r="1.6" fill="#000"/>
<circle cx="256.86" cy="440.41" r="1.6" fill="#000"/>
<circle cx="258.31" cy="440.06" r="1.6" fill="#000"/>
<circle cx="259.76" cy="439.77" r="1.6" fill="#000"/>
<circle cx="261.21" cy="439.54" r="1.6" fill="#000"/>
<circle cx="262.67" cy="439.31" r="1.6" fill="#000"/>
<circle cx="264.12" cy="439.08" r="1.6" fill="#000"/>
<circle cx="265.57" cy="438.85" r="1.6" fill="#000"/>
<circle cx="267.02" cy="438.61" r="1.6" fill="#000"/>
<circle cx="268.48" cy="438.38" r="1.6" fill="#000"/>
<circle cx="269.93" cy="438.15" r="1.6" fill="#000"/>
<circle cx="271.38" cy="437.92" r="1.6" fill="#000"/>
<circle cx="272.83" cy="437.73" r="1.6" fill="#000"/>
<circle cx="274.29" cy="437.53" r="1.6" fill="#000"/>
<circle cx="275.74" cy="437.34" r="1.6" fill="#000"/>
<circle cx="277.19" cy="437.15" r="1.6" fill="#000"/>
<circle cx="278.64" cy="436.96" r="1.6" fill="#000"/>
<circle cx="280.10" cy="436.76" r="1.6" fill="#000"/>
<circle cx="281.55" cy="436.57" r="1.6" fill="#000"/>
<circle cx="283.00" cy="436.38" r="1.6" fill="#000"/>
<path d="M172.61,535.16 L173.77,532.17 L174.93,529.18 L176.10,526.18 L177.26,523.19 L178.42,520.20 L179.58,517.21 L180.74,514.22 L181.91,511.22 L183.07,508.23 L184.23,505.24 L185.39,502.20 L186.55,499.17 L187.72,496.13 L188.88,493.10 L190.04,490.06 L191.20,487.51 L192.36,484.96 L193.53,482.40 L194.69,479.85 L195.85,477.30 L197.01,475.18 L198.17,473.07 L199.34,470.95 L200.50,468.83 L201.66,466.72 L202.82,465.13 L203.98,463.77 L205.15,462.41 L206.31,461.06 L207.47,459.70 L208.63,458.73 L209.79,457.76 L210.96,456.78 L212.12,455.81 L213.28,455.01 L214.44,454.27 L215.60,453.54 L216.77,452.81 L217.93,452.07 L219.09,451.34 L220.25,450.77 L221.41,450.20 L222.58,449.62 L223.74,449.05 L224.90,448.48 L226.06,448.08 L227.22,447.67 L228.39,447.27 L229.55,446.86 L230.71,446.46 L231.87,446.05 L233.03,445.65 L234.20,445.24 L235.36,444.87 L236.52,444.58 L237.68,444.29 L238.84,444.00 L240.01,443.70 L241.17,443.41 L242.33,443.12 L243.49,442.83 L244.65,442.54 L245.82,442.24 L246.98,441.95 L248.14,441.66 L249.30,441.38 L250.46,441.09 L251.63,440.81 L252.79,440.52 L253.95,440.24 L255.11,439.96 L256.27,439.67 L257.44,439.39 L258.60,439.11 L259.76,438.89 L260.92,438.71 L262.08,438.52 L263.25,438.34 L264.41,438.15 L265.57,437.97 L266.73,437.78 L267.89,437.60 L269.06,437.41 L270.22,437.23 L271.38,437.04 L272.54,436.89 L273.70,436.73 L274.87,436.58 L276.03,436.42 L277.19,436.27 L278.35,436.12 L279.51,435.96 L280.68,435.81 L281.84,435.65 L283.00,435.50" fill="none" stroke="#ff0000" stroke-width="2.4" stroke-linejoin="round"/>
<text x="363.50" y="351.50" font-size="26" font-weight="bold" fill="#000" text-anchor="start" >d</text>
<line x1="412.70" y1="596.00" x2="416.70" y2="596.00" stroke="#000" stroke-width="1.5" />
<text x="407.50" y="600.80" font-size="13.2" font-weight="bold" fill="#000" text-anchor="end" >0</text>
<line x1="412.70" y1="536.60" x2="416.70" y2="536.60" stroke="#000" stroke-width="1.5" />
<text x="407.50" y="541.40" font-size="13.2" font-weight="bold" fill="#000" text-anchor="end" >50</text>
<line x1="412.70" y1="477.20" x2="416.70" y2="477.20" stroke="#000" stroke-width="1.5" />
<text x="407.50" y="482.00" font-size="13.2" font-weight="bold" fill="#000" text-anchor="end" >100</text>
<line x1="412.70" y1="417.80" x2="416.70" y2="417.80" stroke="#000" stroke-width="1.5" />
<text x="407.50" y="422.60" font-size="13.2" font-weight="bold" fill="#000" text-anchor="end" >150</text>
<line x1="412.70" y1="358.40" x2="416.70" y2="358.40" stroke="#000" stroke-width="1.5" />
<text x="407.50" y="363.20" font-size="13.2" font-weight="bold" fill="#000" text-anchor="end" >200</text>
<line x1="412.70" y1="566.30" x2="414.90" y2="566.30" stroke="#000" stroke-width="1.3" />
<line x1="412.70" y1="506.90" x2="414.90" y2="506.90" stroke="#000" stroke-width="1.3" />
<line x1="412.70" y1="447.50" x2="414.90" y2="447.50" stroke="#000" stroke-width="1.3" />
<line x1="412.70" y1="388.10" x2="414.90" y2="388.10" stroke="#000" stroke-width="1.3" />
<text transform="translate(377,476.4) rotate(-90)" font-size="13.4" font-weight="bold" text-anchor="middle">Current density (nA cm<tspan font-size="8.5" dy="-5">-2</tspan><tspan dy="5">)</tspan></text>
<rect x="418.50" y="595.29" width="11.03" height="0.71" fill="#c4c4c4" stroke="#000" stroke-width="1.3"/>
<line x1="424.01" y1="594.93" x2="424.01" y2="595.64" stroke="#000" stroke-width="1.7" />
<line x1="420.71" y1="594.93" x2="427.31" y2="594.93" stroke="#000" stroke-width="1.9" />
<line x1="420.71" y1="595.64" x2="427.31" y2="595.64" stroke="#000" stroke-width="1.9" />
<rect x="429.53" y="591.84" width="11.03" height="4.16" fill="#1b67de" stroke="#000" stroke-width="1.3"/>
<line x1="435.04" y1="590.65" x2="435.04" y2="593.03" stroke="#000" stroke-width="1.7" />
<line x1="431.74" y1="590.65" x2="438.34" y2="590.65" stroke="#000" stroke-width="1.9" />
<line x1="431.74" y1="593.03" x2="438.34" y2="593.03" stroke="#000" stroke-width="1.9" />
<rect x="440.56" y="588.87" width="11.03" height="7.13" fill="#36a566" stroke="#000" stroke-width="1.3"/>
<line x1="446.07" y1="587.92" x2="446.07" y2="589.82" stroke="#000" stroke-width="1.7" />
<line x1="442.77" y1="587.92" x2="449.38" y2="587.92" stroke="#000" stroke-width="1.9" />
<line x1="442.77" y1="589.82" x2="449.38" y2="589.82" stroke="#000" stroke-width="1.9" />
<rect x="451.59" y="585.90" width="11.03" height="10.10" fill="#fb9447" stroke="#000" stroke-width="1.3"/>
<line x1="457.10" y1="584.95" x2="457.10" y2="586.85" stroke="#000" stroke-width="1.7" />
<line x1="453.80" y1="584.95" x2="460.40" y2="584.95" stroke="#000" stroke-width="1.9" />
<line x1="453.80" y1="586.85" x2="460.40" y2="586.85" stroke="#000" stroke-width="1.9" />
<rect x="462.62" y="584.71" width="11.03" height="11.29" fill="#ee3e3e" stroke="#000" stroke-width="1.3"/>
<line x1="468.13" y1="583.29" x2="468.13" y2="586.14" stroke="#000" stroke-width="1.7" />
<line x1="464.83" y1="583.29" x2="471.44" y2="583.29" stroke="#000" stroke-width="1.9" />
<line x1="464.83" y1="586.14" x2="471.44" y2="586.14" stroke="#000" stroke-width="1.9" />
<rect x="486.20" y="591.37" width="11.03" height="4.63" fill="#c4c4c4" stroke="#000" stroke-width="1.3"/>
<line x1="491.71" y1="590.77" x2="491.71" y2="591.96" stroke="#000" stroke-width="1.7" />
<line x1="488.41" y1="590.77" x2="495.01" y2="590.77" stroke="#000" stroke-width="1.9" />
<line x1="488.41" y1="591.96" x2="495.01" y2="591.96" stroke="#000" stroke-width="1.9" />
<rect x="497.23" y="586.61" width="11.03" height="9.39" fill="#1b67de" stroke="#000" stroke-width="1.3"/>
<line x1="502.74" y1="585.19" x2="502.74" y2="588.04" stroke="#000" stroke-width="1.7" />
<line x1="499.44" y1="585.19" x2="506.04" y2="585.19" stroke="#000" stroke-width="1.9" />
<line x1="499.44" y1="588.04" x2="506.04" y2="588.04" stroke="#000" stroke-width="1.9" />
<rect x="508.26" y="581.51" width="11.03" height="14.49" fill="#36a566" stroke="#000" stroke-width="1.3"/>
<line x1="513.77" y1="580.56" x2="513.77" y2="582.46" stroke="#000" stroke-width="1.7" />
<line x1="510.47" y1="580.56" x2="517.07" y2="580.56" stroke="#000" stroke-width="1.9" />
<line x1="510.47" y1="582.46" x2="517.07" y2="582.46" stroke="#000" stroke-width="1.9" />
<rect x="519.29" y="573.90" width="11.03" height="22.10" fill="#fb9447" stroke="#000" stroke-width="1.3"/>
<line x1="524.80" y1="572.95" x2="524.80" y2="574.85" stroke="#000" stroke-width="1.7" />
<line x1="521.50" y1="572.95" x2="528.10" y2="572.95" stroke="#000" stroke-width="1.9" />
<line x1="521.50" y1="574.85" x2="528.10" y2="574.85" stroke="#000" stroke-width="1.9" />
<rect x="530.32" y="570.10" width="11.03" height="25.90" fill="#ee3e3e" stroke="#000" stroke-width="1.3"/>
<line x1="535.83" y1="567.96" x2="535.83" y2="572.24" stroke="#000" stroke-width="1.7" />
<line x1="532.53" y1="567.96" x2="539.13" y2="567.96" stroke="#000" stroke-width="1.9" />
<line x1="532.53" y1="572.24" x2="539.13" y2="572.24" stroke="#000" stroke-width="1.9" />
<rect x="553.90" y="585.31" width="11.03" height="10.69" fill="#c4c4c4" stroke="#000" stroke-width="1.3"/>
<line x1="559.41" y1="584.60" x2="559.41" y2="586.02" stroke="#000" stroke-width="1.7" />
<line x1="556.12" y1="584.60" x2="562.71" y2="584.60" stroke="#000" stroke-width="1.9" />
<line x1="556.12" y1="586.02" x2="562.71" y2="586.02" stroke="#000" stroke-width="1.9" />
<rect x="564.93" y="564.40" width="11.03" height="31.60" fill="#1b67de" stroke="#000" stroke-width="1.3"/>
<line x1="570.44" y1="562.62" x2="570.44" y2="566.18" stroke="#000" stroke-width="1.7" />
<line x1="567.14" y1="562.62" x2="573.74" y2="562.62" stroke="#000" stroke-width="1.9" />
<line x1="567.14" y1="566.18" x2="573.74" y2="566.18" stroke="#000" stroke-width="1.9" />
<rect x="575.96" y="542.66" width="11.03" height="53.34" fill="#36a566" stroke="#000" stroke-width="1.3"/>
<line x1="581.47" y1="538.50" x2="581.47" y2="546.82" stroke="#000" stroke-width="1.7" />
<line x1="578.17" y1="538.50" x2="584.77" y2="538.50" stroke="#000" stroke-width="1.9" />
<line x1="578.17" y1="546.82" x2="584.77" y2="546.82" stroke="#000" stroke-width="1.9" />
<rect x="586.99" y="525.55" width="11.03" height="70.45" fill="#fb9447" stroke="#000" stroke-width="1.3"/>
<line x1="592.50" y1="522.70" x2="592.50" y2="528.40" stroke="#000" stroke-width="1.7" />
<line x1="589.21" y1="522.70" x2="595.80" y2="522.70" stroke="#000" stroke-width="1.9" />
<line x1="589.21" y1="528.40" x2="595.80" y2="528.40" stroke="#000" stroke-width="1.9" />
<rect x="598.02" y="515.10" width="11.03" height="80.90" fill="#ee3e3e" stroke="#000" stroke-width="1.3"/>
<line x1="603.53" y1="513.67" x2="603.53" y2="516.52" stroke="#000" stroke-width="1.7" />
<line x1="600.24" y1="513.67" x2="606.83" y2="513.67" stroke="#000" stroke-width="1.9" />
<line x1="600.24" y1="516.52" x2="606.83" y2="516.52" stroke="#000" stroke-width="1.9" />
<rect x="621.60" y="580.56" width="11.03" height="15.44" fill="#c4c4c4" stroke="#000" stroke-width="1.3"/>
<line x1="627.12" y1="579.84" x2="627.12" y2="581.27" stroke="#000" stroke-width="1.7" />
<line x1="623.82" y1="579.84" x2="630.41" y2="579.84" stroke="#000" stroke-width="1.9" />
<line x1="623.82" y1="581.27" x2="630.41" y2="581.27" stroke="#000" stroke-width="1.9" />
<rect x="632.63" y="516.40" width="11.03" height="79.60" fill="#1b67de" stroke="#000" stroke-width="1.3"/>
<line x1="638.14" y1="512.84" x2="638.14" y2="519.97" stroke="#000" stroke-width="1.7" />
<line x1="634.85" y1="512.84" x2="641.44" y2="512.84" stroke="#000" stroke-width="1.9" />
<line x1="634.85" y1="519.97" x2="641.44" y2="519.97" stroke="#000" stroke-width="1.9" />
<rect x="643.66" y="464.13" width="11.03" height="131.87" fill="#36a566" stroke="#000" stroke-width="1.3"/>
<line x1="649.17" y1="457.00" x2="649.17" y2="471.26" stroke="#000" stroke-width="1.7" />
<line x1="645.88" y1="457.00" x2="652.47" y2="457.00" stroke="#000" stroke-width="1.9" />
<line x1="645.88" y1="471.26" x2="652.47" y2="471.26" stroke="#000" stroke-width="1.9" />
<rect x="654.69" y="413.05" width="11.03" height="182.95" fill="#fb9447" stroke="#000" stroke-width="1.3"/>
<line x1="660.21" y1="409.48" x2="660.21" y2="416.61" stroke="#000" stroke-width="1.7" />
<line x1="656.91" y1="409.48" x2="663.50" y2="409.48" stroke="#000" stroke-width="1.9" />
<line x1="656.91" y1="416.61" x2="663.50" y2="416.61" stroke="#000" stroke-width="1.9" />
<rect x="665.72" y="397.60" width="11.03" height="198.40" fill="#ee3e3e" stroke="#000" stroke-width="1.3"/>
<line x1="671.24" y1="395.82" x2="671.24" y2="399.39" stroke="#000" stroke-width="1.7" />
<line x1="667.94" y1="395.82" x2="674.53" y2="395.82" stroke="#000" stroke-width="1.9" />
<line x1="667.94" y1="399.39" x2="674.53" y2="399.39" stroke="#000" stroke-width="1.9" />
<rect x="412.7" y="358.4" width="270.50000000000006" height="237.60000000000002" fill="none" stroke="#000" stroke-width="1.7"/>
<line x1="479.90" y1="596.00" x2="479.90" y2="593.50" stroke="#000" stroke-width="1.3" />
<line x1="547.60" y1="596.00" x2="547.60" y2="593.50" stroke="#000" stroke-width="1.3" />
<line x1="615.30" y1="596.00" x2="615.30" y2="593.50" stroke="#000" stroke-width="1.3" />
<text x="446.68" y="611.30" font-size="13.4" font-weight="bold" fill="#000" text-anchor="middle" >50</text>
<text x="514.38" y="611.30" font-size="13.4" font-weight="bold" fill="#000" text-anchor="middle" >60</text>
<text x="582.08" y="611.30" font-size="13.4" font-weight="bold" fill="#000" text-anchor="middle" >70</text>
<text x="649.78" y="611.30" font-size="13.4" font-weight="bold" fill="#000" text-anchor="middle" >80</text>
<text x="552.00" y="629.00" font-size="13.3" font-weight="bold" fill="#000" text-anchor="middle" >Temperature (°C)</text>
<rect x="417.8" y="362.60" width="25.6" height="12.2" fill="#c4c4c4" stroke="#000" stroke-width="1.2"/>
<text x="447.40" y="373.00" font-size="11.4" font-weight="bold" fill="#000" text-anchor="start" >Pt&#160; film</text>
<rect x="417.8" y="379.70" width="25.6" height="12.2" fill="#1b67de" stroke="#000" stroke-width="1.2"/>
<text x="447.40" y="390.10" font-size="11.4" font-weight="bold" fill="#000" text-anchor="start" ><tspan font-size="11.40" dy="0.00">Pristine-CeO</tspan><tspan font-size="7.75" dy="3.42">x</tspan><tspan font-size="11.40" dy="-3.42">/Pt</tspan></text>
<rect x="417.8" y="396.40" width="25.6" height="12.2" fill="#36a566" stroke="#000" stroke-width="1.2"/>
<text x="447.40" y="406.80" font-size="11.4" font-weight="bold" fill="#000" text-anchor="start" ><tspan font-size="11.40" dy="0.00">O</tspan><tspan font-size="7.75" dy="3.42">2</tspan><tspan font-size="11.40" dy="-3.42">-CeO</tspan><tspan font-size="7.75" dy="3.42">x</tspan><tspan font-size="11.40" dy="-3.42">/Pt</tspan></text>
<rect x="417.8" y="413.40" width="25.6" height="12.2" fill="#fb9447" stroke="#000" stroke-width="1.2"/>
<text x="447.40" y="423.80" font-size="11.4" font-weight="bold" fill="#000" text-anchor="start" ><tspan font-size="11.40" dy="0.00">Ar-CeO</tspan><tspan font-size="7.75" dy="3.42">x</tspan><tspan font-size="11.40" dy="-3.42">/Pt</tspan></text>
<rect x="417.8" y="430.50" width="25.6" height="12.2" fill="#ee3e3e" stroke="#000" stroke-width="1.2"/>
<text x="447.40" y="440.90" font-size="11.4" font-weight="bold" fill="#000" text-anchor="start" ><tspan font-size="11.40" dy="0.00">Vac.-CeO</tspan><tspan font-size="7.75" dy="3.42">x</tspan><tspan font-size="11.40" dy="-3.42">/Pt</tspan></text>
</svg></body></html>
